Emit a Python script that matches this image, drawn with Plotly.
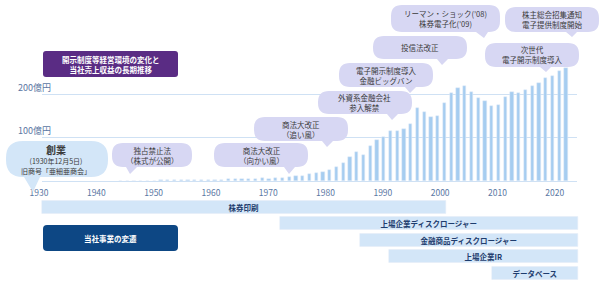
import plotly.graph_objects as go

# ---------------- data ----------------
fiscal_years = list(range(1957, 2024))
revenue = [
    0.5, 0.6, 0.7, 0.8, 0.9, 1.0, 1.2, 1.3, 1.5, 1.7,
    1.9, 2.1, 2.3, 2.5, 2.7, 3.0, 3.5, 3.8, 4.2, 4.8,
    5.0, 6.2, 5.3, 6.2, 7.6, 9.9, 11.5, 12.2, 15.4, 17.7,
    20.7, 24.6, 31.5, 42, 56, 66.7, 60.5, 81, 94, 101,
    115, 115,
    119.5, 131.7, 167, 159, 148, 149, 179, 202, 213, 218,
    205, 191.5, 184, 172, 175, 192, 205, 202, 210, 218,
    225, 236, 242, 253.6, 260,
]
y_tickvals = [100, 200]
y_ticktext = ["100億円", "200億円"]
year_ticks = [1930, 1940, 1950, 1960, 1970, 1980, 1990, 2000, 2010, 2020]

business_names = ["株券印刷", "上場企業ディスクロージャー", "金融商品ディスクロージャー", "上場企業IR", "データベース"]
business_start = [1930.5, 1972, 1986, 1991, 2009]
business_end = [2001, 2024, 2024, 2024, 2024]

founding_text = ["創業", "(1930年12月5日)", "旧商号「亜細亜商会」"]

events = [
    "独占禁止法<br>（株式が公開）",
    "商法大改正<br>（向かい風）",
    "商法大改正<br>（追い風）",
    "外資系金融会社<br>参入解禁",
    "電子開示制度導入<br>金融ビッグバン",
    "投信法改正",
    "リーマン・ショック(’08)<br>株券電子化(’09)",
    "株主総会招集通知<br>電子提供制度開始",
    "次世代<br>電子開示制度導入",
]

# ---------------- layout helpers ----------------
W, H = 600, 284
FONT = "Noto Sans CJK JP"
BAR_BLUE = "#a6cdf0"
GRID = "#cfe1f4"
LAV = "#d7d7f3"
LIGHT = "#d3e6f8"
TXT = "#3a3a3a"
AXTXT = "#5a77a3"


def X(p):
    return p / W


def Y(p):
    return 1 - p / H


def bubble_path(x0, y0, x1, y1, r, tail=None):
    s = f"M{X(x0 + r)},{Y(y0)} L{X(x1 - r)},{Y(y0)} Q{X(x1)},{Y(y0)} {X(x1)},{Y(y0 + r)} "
    s += f"L{X(x1)},{Y(y1 - r)} Q{X(x1)},{Y(y1)} {X(x1 - r)},{Y(y1)} "
    if tail:
        tb0, tb1, tx, ty = tail
        s += f"L{X(tb1)},{Y(y1)} L{X(tx)},{Y(ty)} L{X(tb0)},{Y(y1)} "
    s += f"L{X(x0 + r)},{Y(y1)} Q{X(x0)},{Y(y1)} {X(x0)},{Y(y1 - r)} "
    s += f"L{X(x0)},{Y(y0 + r)} Q{X(x0)},{Y(y0)} {X(x0 + r)},{Y(y0)} Z"
    return s


def label(x, y, text, size, color=TXT):
    return dict(x=X(x), y=Y(y), xref="paper", yref="paper", showarrow=False,
                xanchor="center", yanchor="middle", align="center", text=text,
                font=dict(family=FONT, size=size, color=color))


fig = go.Figure()

# revenue bars
fig.add_trace(go.Bar(
    x=fiscal_years, y=revenue, marker_color=BAR_BLUE, width=0.45,
    xaxis="x", yaxis="y", hoverinfo="skip", showlegend=False,
))

# business timeline bars
fig.add_trace(go.Bar(
    y=business_names,
    x=[e - s for s, e in zip(business_start, business_end)],
    base=business_start,
    orientation="h",
    marker_color=LIGHT,
    width=0.76,
    text=["<b>" + n + "</b>" for n in business_names],
    textposition="inside",
    insidetextanchor="middle",
    textangle=0,
    textfont=dict(family=FONT, size=7.5, color="#1e3d6e"),
    xaxis="x2", yaxis="y2", hoverinfo="skip", showlegend=False,
))

# axes geometry (pixels)
base_px = 181.0
px_per_unit = 0.435
x_left, x_right = 42.0, 577.0
bar_last_px, bar_step = 566.0, 6.75
last_year = fiscal_years[-1]
bx0 = last_year - (bar_last_px - x_left) / bar_step
bx1 = last_year + (x_right - bar_last_px) / bar_step

t_mid_year, t_mid_px, t_step = 1975, 296.9, 5.73
tx0 = t_mid_year - t_mid_px / t_step
tx1 = t_mid_year + (W - t_mid_px) / t_step

row_pitch = 16.5
row_top_center = 207.0
y2_top = row_top_center - row_pitch / 2
y2_bot = y2_top + row_pitch * len(business_names)

fig.update_layout(
    width=W, height=H,
    margin=dict(l=0, r=0, t=0, b=0),
    paper_bgcolor="white", plot_bgcolor="rgba(0,0,0,0)",
    bargap=0,
    uniformtext=dict(minsize=7.5, mode="show"),
    font=dict(family=FONT, color=TXT),
    xaxis=dict(
        domain=[X(x_left), X(x_right)], range=[bx0, bx1],
        showticklabels=False, showgrid=False, zeroline=False,
        showline=True, linecolor=GRID, linewidth=1, anchor="y",
        fixedrange=True,
    ),
    yaxis=dict(
        domain=[Y(base_px), 1], range=[0, base_px / px_per_unit],
        tickvals=y_tickvals, ticktext=y_ticktext,
        showgrid=True, gridcolor=GRID, gridwidth=1, zeroline=False,
        ticklabelposition="outside top", ticklabelstandoff=-10,
        tickfont=dict(family=FONT, size=9, color=AXTXT),
        showline=False, anchor="x", fixedrange=True,
    ),
    xaxis2=dict(
        domain=[0, 1], range=[tx0, tx1],
        tickvals=year_ticks, ticks="", ticklabelstandoff=5,
        tickfont=dict(family=FONT, size=8.5, color=AXTXT),
        showgrid=False, zeroline=False, showline=False,
        anchor="y", fixedrange=True,
    ),
    yaxis2=dict(
        domain=[Y(y2_bot), Y(y2_top)], range=[len(business_names) - 0.5, -0.5],
        type="category", categoryarray=business_names,
        showticklabels=False, showgrid=False, zeroline=False,
        anchor="x2", fixedrange=True,
    ),
)

shapes = []
annotations = []

# title box
shapes.append(dict(type="path", xref="paper", yref="paper",
                   path=bubble_path(43, 51, 178, 77, 3), fillcolor="#5a2c84", line=dict(width=0)))
annotations.append(label(110.5, 64, "<b>開示制度等経営環境の変化と<br>当社売上収益の長期推移</b>", 7.5, "white"))

# business box
shapes.append(dict(type="path", xref="paper", yref="paper",
                   path=bubble_path(43, 225, 178, 251, 4), fillcolor="#0d4784", line=dict(width=0)))
annotations.append(label(110.5, 238, "<b>当社事業の変遷</b>", 7.5, "white"))

# founding bubble
shapes.append(dict(type="path", xref="paper", yref="paper",
                   path=bubble_path(6, 141, 108, 177, 17, tail=(24, 40, 33, 192)),
                   fillcolor=LIGHT, line=dict(width=0)))
founding_html = ("<b><span style='font-size:10px'>" + founding_text[0] + "</span></b><br>"
                 + "<span style='font-size:7px'>" + founding_text[1] + "</span><br>"
                 + "<span style='font-size:7px'>" + founding_text[2] + "</span>")
annotations.append(label(56, 158.5, founding_html, 7.5))

# event bubbles: (x0, y0, x1, y1, tail)
bubble_geo = [
    (112, 143, 192, 167, (126, 137, 130, 174)),
    (214, 143, 308, 167, (284, 295, 289, 174)),
    (254, 117, 348, 141, (322, 333, 327, 147)),
    (318, 91, 412, 114, (387, 398, 392, 120)),
    (339, 63, 433, 87, (405, 416, 410, 93)),
    (373, 36, 467, 59, (437, 448, 442, 65)),
    (391, 5, 500, 32, (476, 488, 484, 38)),
    (505, 7, 599, 32, (566, 577, 572, 37)),
    (485, 43, 579, 67, (540, 551, 546, 72)),
]
for txt, (x0, y0, x1, y1, tail) in zip(events, bubble_geo):
    shapes.append(dict(type="path", xref="paper", yref="paper",
                       path=bubble_path(x0, y0, x1, y1, 11, tail=tail),
                       fillcolor=LAV, line=dict(width=0)))
    annotations.append(label((x0 + x1) / 2, (y0 + y1) / 2, txt, 7.5))

fig.update_layout(shapes=shapes, annotations=annotations)
fig.write_html("out.html")
